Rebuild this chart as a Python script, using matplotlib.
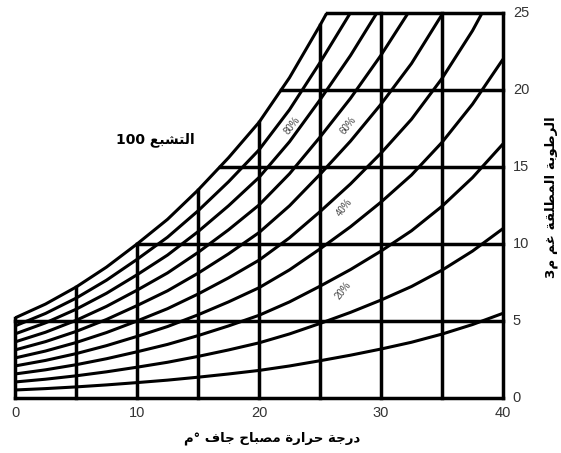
import re
import matplotlib
matplotlib.use("Agg")
import matplotlib.pyplot as plt
from matplotlib.patches import Rectangle
import numpy as np

# ---- data ----
temps = [0, 2.5, 5, 7.5, 10, 12.5, 15, 17.5, 20, 22.5, 25, 27.5, 30, 32.5, 35, 37.5, 40]
saturation = [5.2, 6.1, 7.2, 8.5, 10.0, 11.6, 13.5, 15.6, 17.9, 20.8, 24.2, 27.8, 31.8, 36.2, 41.5, 47.7, 55.0]
rh_levels = [10, 20, 30, 40, 50, 60, 70, 80, 90, 100]
grid_x = [0, 5, 10, 15, 20, 25, 30, 35, 40]
grid_y = [0, 5, 10, 15, 20, 25]
x_ticks = [0, 10, 20, 30, 40]
y_ticks = [0, 5, 10, 15, 20, 25]
rh_label_levels = [80, 60, 40, 20]
rh_label_text = ["80%", "60%", "40%", "20%"]

title_text = "التشبع 100"
xlabel_text = "درجة حرارة مصباح جاف °م"
ylabel_text = "الرطوبة المطلقة غم م3"

# ---- minimal Arabic shaping (presentation forms + visual order) ----
FORMS = {
    'ا': ('\uFE8D', '\uFE8E', None, None),
    'ب': ('\uFE8F', '\uFE90', '\uFE91', '\uFE92'),
    'ة': ('\uFE93', '\uFE94', None, None),
    'ت': ('\uFE95', '\uFE96', '\uFE97', '\uFE98'),
    'ج': ('\uFE9D', '\uFE9E', '\uFE9F', '\uFEA0'),
    'ح': ('\uFEA1', '\uFEA2', '\uFEA3', '\uFEA4'),
    'د': ('\uFEA9', '\uFEAA', None, None),
    'ر': ('\uFEAD', '\uFEAE', None, None),
    'ش': ('\uFEB5', '\uFEB6', '\uFEB7', '\uFEB8'),
    'ص': ('\uFEB9', '\uFEBA', '\uFEBB', '\uFEBC'),
    'ط': ('\uFEC1', '\uFEC2', '\uFEC3', '\uFEC4'),
    'ع': ('\uFEC9', '\uFECA', '\uFECB', '\uFECC'),
    'غ': ('\uFECD', '\uFECE', '\uFECF', '\uFED0'),
    'ف': ('\uFED1', '\uFED2', '\uFED3', '\uFED4'),
    'ق': ('\uFED5', '\uFED6', '\uFED7', '\uFED8'),
    'ل': ('\uFEDD', '\uFEDE', '\uFEDF', '\uFEE0'),
    'م': ('\uFEE1', '\uFEE2', '\uFEE3', '\uFEE4'),
    'و': ('\uFEED', '\uFEEE', None, None),
}


def shape(text):
    chars = list(text)
    out = []
    for i, c in enumerate(chars):
        if c not in FORMS:
            out.append(c)
            continue
        prev = chars[i - 1] if i > 0 else None
        nxt = chars[i + 1] if i + 1 < len(chars) else None
        jp = prev in FORMS and FORMS[prev][2] is not None
        jn = nxt in FORMS and FORMS[c][2] is not None
        iso, fin, ini, med = FORMS[c]
        out.append(med if (jp and jn) else fin if jp else ini if jn else iso)
    tokens = re.findall(r'[0-9]+|.', ''.join(out))
    return ''.join(reversed(tokens))


# ---- figure ----
W, H = 561, 453
fig = plt.figure(figsize=(W / 100, H / 100), dpi=100)
ax = fig.add_axes([15 / W, 1 - 398 / H, (503 - 15) / W, (398 - 13) / H])
ax.set_xlim(0, 40)
ax.set_ylim(0, 25)
ax.axis("off")

lw = 2.2
temps_a = np.array(temps)
sat_a = np.array(saturation)
clip = Rectangle((0, 0), 40, 25, transform=ax.transData)

# RH curves
for rh in rh_levels:
    ln, = ax.plot(temps_a, sat_a * rh / 100.0, color="black", lw=lw,
                  solid_capstyle="butt", solid_joinstyle="round")
    ln.set_clip_path(clip)

# vertical grid lines (from 0 up to saturation)
for gx in grid_x:
    top = min(np.interp(gx, temps_a, sat_a), 25)
    ax.plot([gx, gx], [0, top], color="black", lw=lw + 0.3, clip_on=False,
            solid_capstyle="projecting")

# horizontal grid lines (from saturation to 40)
for gy in grid_y:
    start = max(0.0, np.interp(gy, sat_a, temps_a))
    ax.plot([start, 40], [gy, gy], color="black", lw=lw + 0.3, clip_on=False,
            solid_capstyle="projecting")

# RH labels
label_pos = {80: (22.7, 17.7), 60: (27.3, 17.7), 40: (27.0, 12.4), 20: (26.9, 7.0)}
for lev, txt in zip(rh_label_levels, rh_label_text):
    x, y = label_pos[lev]
    ax.text(x, y, txt, fontsize=7, color="#444444", rotation=52,
            ha="center", va="center", family="Liberation Sans")

# tick labels
for xt in x_ticks:
    ax.text(xt, -0.55, str(xt), ha="center", va="top", fontsize=10.5,
            color="#333333", family="Liberation Sans")
for yt in y_ticks:
    ax.text(40.8, yt, str(yt), ha="left", va="center", fontsize=10.5,
            color="#333333", family="Liberation Sans")

# texts
fig.text(155 / W, 1 - 140 / H, shape(title_text), ha="center", va="center",
         fontsize=10, fontweight="bold", family=["DejaVu Sans"])
fig.text(272 / W, 1 - 438 / H, shape(xlabel_text), ha="center", va="center",
         fontsize=9.5, fontweight="bold", family=["DejaVu Sans"])
fig.text(551 / W, 1 - 197 / H, shape(ylabel_text), ha="center", va="center",
         rotation=90, fontsize=9.7, fontweight="bold", family=["DejaVu Sans"])

fig.savefig("out.png", dpi=100)
